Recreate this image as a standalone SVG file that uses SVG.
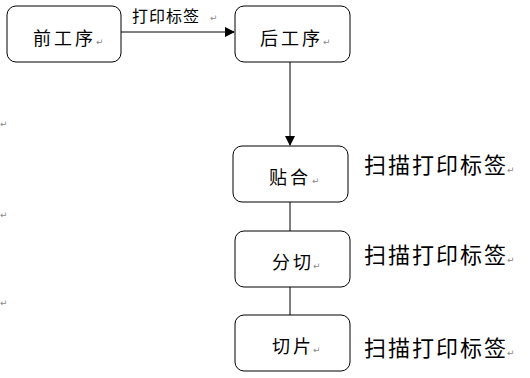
<svg xmlns="http://www.w3.org/2000/svg" width="530" height="378" viewBox="0 0 530 378">
<style>
.box{fill:#fff;stroke:#000;stroke-width:1}
.t{font-family:"Liberation Sans","Noto Sans CJK SC",sans-serif;fill:#000}
.n{font-size:18px;letter-spacing:3px}
.s{font-size:22px;letter-spacing:2px}
.m{font-family:"DejaVu Sans",sans-serif;font-size:9px;fill:#888}
.c{stroke:#000;stroke-width:1;fill:none}
</style>
<defs>
<marker id="ah" markerWidth="10" markerHeight="10" refX="9" refY="5" orient="auto" markerUnits="userSpaceOnUse">
<path d="M0,0 L10,5 L0,10 z" fill="#000"/>
</marker>
</defs>
<rect width="530" height="378" fill="#fff"/>
<g id="connectors">
<line class="c" x1="121" y1="32" x2="234" y2="32" marker-end="url(#ah)"/>
<line class="c" x1="290" y1="62" x2="290" y2="145" marker-end="url(#ah)"/>
<line class="c" x1="290" y1="202" x2="290" y2="231"/>
<line class="c" x1="290" y1="287" x2="290" y2="315"/>
<text class="t" x="132" y="22" font-size="16" letter-spacing="1" fill="#444">打印标签</text>
<text class="m" x="210" y="21">↵</text>
</g>
<g id="n1">
<rect class="box" x="7" y="6" width="114" height="56" rx="9"/>
<text class="t n" x="33" y="45">前工序</text><text class="m" x="96" y="45">↵</text>
</g>
<g id="n2">
<rect class="box" x="235" y="6" width="115" height="56" rx="9"/>
<text class="t n" x="260" y="45">后工序</text><text class="m" x="323" y="45">↵</text>
</g>
<g id="n3">
<rect class="box" x="233" y="146" width="115" height="56" rx="9"/>
<text class="t n" x="269" y="184" letter-spacing="4">贴合</text><text class="m" x="312" y="184">↵</text>
<text class="t s" x="364" y="173">扫描打印标签</text><text class="m" x="507" y="173">↵</text>
</g>
<g id="n4">
<rect class="box" x="235" y="231" width="115" height="56" rx="9"/>
<text class="t n" x="272" y="269">分切</text><text class="m" x="313" y="269">↵</text>
<text class="t s" x="364" y="263">扫描打印标签</text><text class="m" x="507" y="263">↵</text>
</g>
<g id="n5">
<rect class="box" x="235" y="315" width="115" height="56" rx="9"/>
<text class="t n" x="272" y="353">切片</text><text class="m" x="313" y="353">↵</text>
<text class="t s" x="364" y="356">扫描打印标签</text><text class="m" x="507" y="356">↵</text>
</g>
<text class="m" x="0" y="127">↵</text>
<text class="m" x="0" y="218">↵</text>
<text class="m" x="0" y="306">↵</text>
</svg>
